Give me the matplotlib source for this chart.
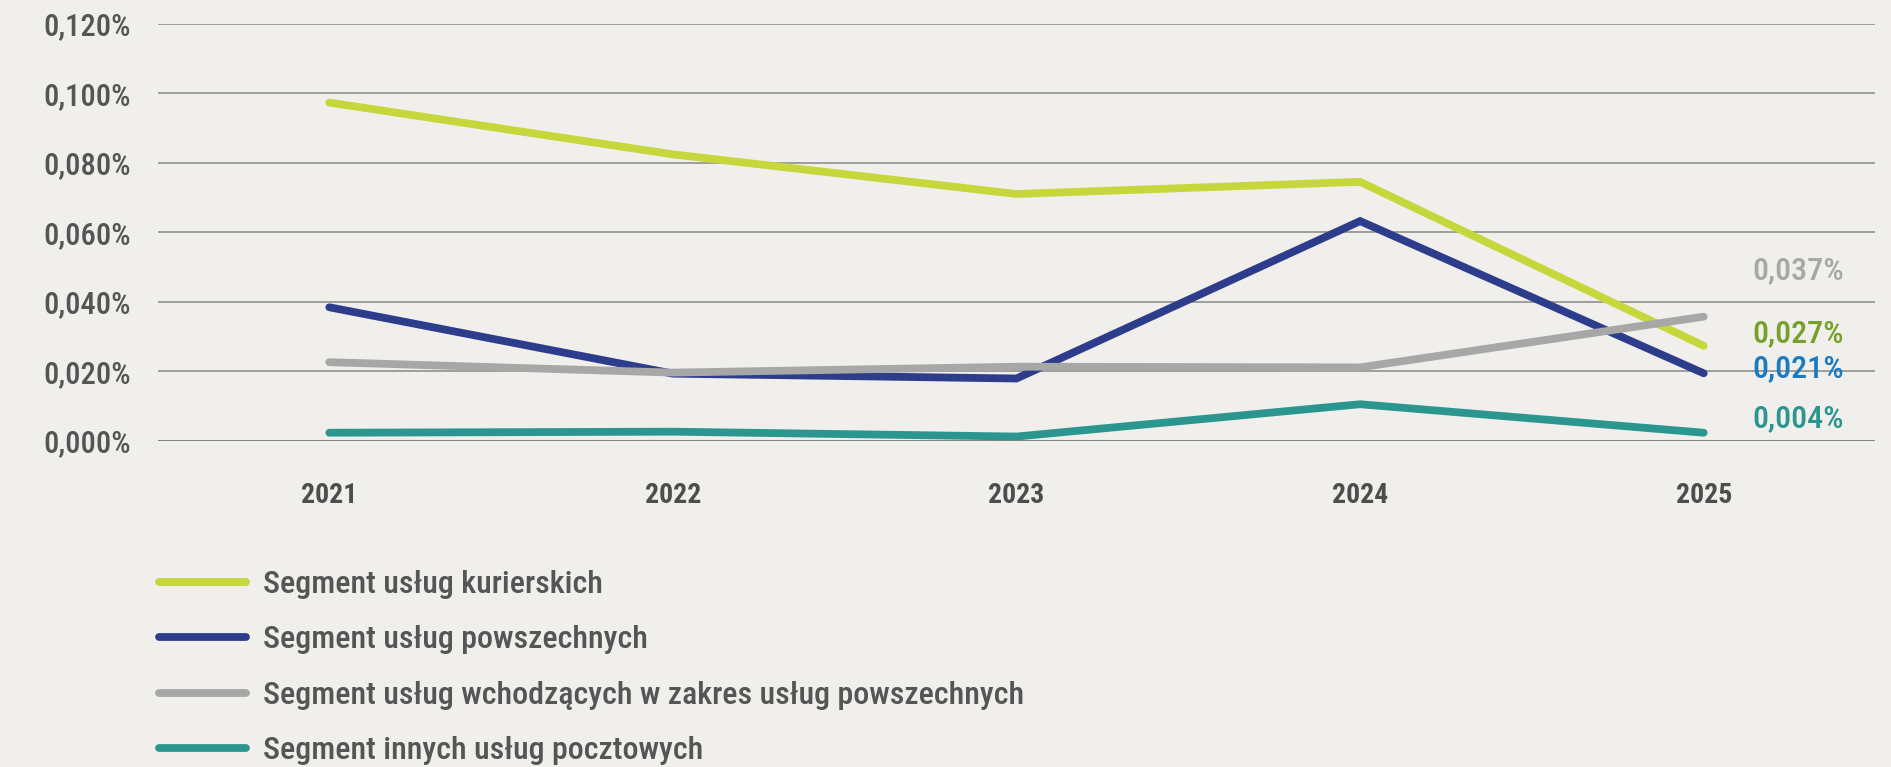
import matplotlib
matplotlib.use("Agg")
import matplotlib.pyplot as plt
from matplotlib import font_manager as fm
from matplotlib.ticker import FixedLocator, FixedFormatter

# ---- data ----
years = ["2021", "2022", "2023", "2024", "2025"]
courier = [0.0973, 0.0824, 0.0710, 0.0745, 0.0273]
universal = [0.0384, 0.0193, 0.0179, 0.0632, 0.0194]
within_universal = [0.0226, 0.0196, 0.0213, 0.0211, 0.0357]
other_postal = [0.0023, 0.0026, 0.0012, 0.0105, 0.0023]
series_names = [
    "Segment usług kurierskich",
    "Segment usług powszechnych",
    "Segment usług wchodzących w zakres usług powszechnych",
    "Segment innych usług pocztowych",
]
end_labels = ["0,027%", "0,021%", "0,037%", "0,004%"]
y_ticks = [0.0, 0.02, 0.04, 0.06, 0.08, 0.10, 0.12]
y_tick_labels = ["0,000%", "0,020%", "0,040%", "0,060%", "0,080%", "0,100%", "0,120%"]

# ---- style ----
names = {f.name for f in fm.fontManager.ttflist}
family = "Roboto"
for cand in ["Roboto Condensed", "Liberation Sans Narrow", "Roboto"]:
    if cand in names:
        family = cand
        break
plt.rcParams["font.family"] = [family, "DejaVu Sans"]

bg = "#f0efec"
line_colors = ["#c5d73b", "#2e3c8c", "#a7a7a7", "#2b9690"]
label_colors = ["#77a02b", "#1a7bc3", "#a7a7a7", "#2b9690"]
label_offsets = [(0, 12), (0, 5), (0, 46), (0, 14)]
text_col = "#555555"

fig = plt.figure(figsize=(18.91, 7.67), dpi=100, facecolor=bg)
ax = fig.add_axes([0.0833, 0.4254, 0.9085, 0.5437])
ax.set_facecolor(bg)

x = list(range(len(years)))
all_series = [courier, universal, within_universal, other_postal]
handles = []
for vals, col, name in zip(all_series, line_colors, series_names):
    (h,) = ax.plot(x, vals, color=col, lw=5.6, solid_capstyle="round",
                   solid_joinstyle="miter", label=name, zorder=3, clip_on=False)
    handles.append(h)

for vals, lab, col, off in zip(all_series, end_labels, label_colors, label_offsets):
    ax.annotate(lab, xy=(x[-1], vals[-1]), xytext=(off[0] + 49, off[1]),
                textcoords="offset pixels", ha="left", va="center",
                color=col, fontsize=23, fontweight="medium")

ax.set_xlim(-0.5, len(years) - 0.5)
ax.set_ylim(0, 0.12)
ax.yaxis.set_major_locator(FixedLocator(y_ticks))
ax.yaxis.set_major_formatter(FixedFormatter(y_tick_labels))
ax.set_xticks(x)
ax.set_xticklabels(years)
for s in ax.spines.values():
    s.set_visible(False)
ax.tick_params(axis="y", length=0, pad=19, labelsize=22, labelcolor=text_col)
ax.tick_params(axis="x", length=0, pad=30, labelsize=20, labelcolor="#4d4d4d")
for t in ax.get_yticklabels():
    t.set_fontweight("medium")
for t in ax.get_xticklabels():
    t.set_fontweight("bold")

for v in y_ticks:
    if v == 0:
        ax.axhline(v, color="#858585", lw=2.2, zorder=1)
    else:
        ax.axhline(v, color="#8f8f8f", lw=1.2, zorder=1)

leg = fig.legend(handles=handles, loc="upper left", bbox_to_anchor=(0.0843, 0.257),
                 frameon=False, borderpad=0, borderaxespad=0, handlelength=2.7,
                 handletextpad=0.55, labelspacing=0.83,
                 prop={"size": 23, "weight": "medium"})
for t in leg.get_texts():
    t.set_color(text_col)

fig.savefig("out.png", dpi=100, facecolor=bg)
